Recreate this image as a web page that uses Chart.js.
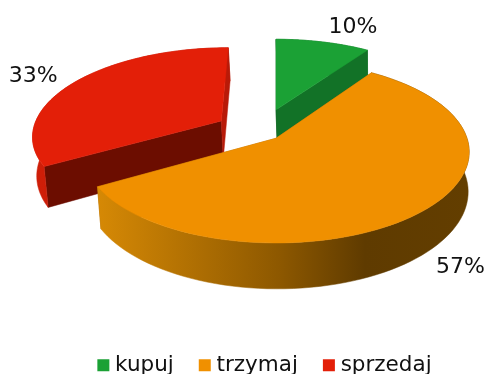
<!DOCTYPE html>
<html>
<head>
<meta charset="utf-8">
<script src="https://cdn.jsdelivr.net/npm/chart.js@4/dist/chart.umd.min.js"></script>
<style>
html, body { margin: 0; padding: 0; background: #fff; }
#wrap { position: relative; width: 485px; height: 374px; }
</style>
</head>
<body>
<div id="wrap"><canvas id="pieChart"></canvas></div>
<script>
// DATA

const categories = ['kupuj', 'trzymaj', 'sprzedaj'];
const shares = [9.5, 57.1, 33.4];
const topColors = ['#1ba135', '#f09000', '#e31f08'];
const startWallColors = ['#0b4a1a', '#a86500', '#6c0d00'];
const endWallColors = ['#127227', '#a86500', '#b81a08'];
const rimColors = [
    ['#127227', '#127227'],
    ['#d68905', '#8d5800', '#5f3b00', '#633e00'],
    ['#cf1e08', '#b81a08']
];

// 3D VIEW SETTINGS

const TILT = 0.466;
const PERSPECTIVE = 0.15;
const DEPTH = 39;
const BOTTOM_SHRINK = 0.988;
const BOTTOM_SKEW = 1.3;
const VIEW_DX = 9;
const VIEW_DY = -24;
const sliceShift = [[0, 0.335], [0, 0], [-0.295, 0.2]];
const labelNudge = [[30, -15], [38, 56], [-42, -6]];

function project(el, X, Y, bottom) {
    const s = 1 / (1 + PERSPECTIVE * Y);
    let x = el.outerRadius * X * s;
    let y = -el.outerRadius * TILT * Y * s;
    if (bottom) {
        x = x * BOTTOM_SHRINK + BOTTOM_SKEW;
        y += DEPTH * s;
    }
    return { x: el.x + VIEW_DX + x, y: el.y + VIEW_DY + y };
}

function rimPoints(el, shift, bottom) {
    const steps = 90;
    const points = [];
    for (let i = 0; i <= steps; i++) {
        const a = el.startAngle + (el.endAngle - el.startAngle) * i / steps;
        points.push(project(el, shift[0] + Math.cos(a), shift[1] - Math.sin(a), bottom));
    }
    return points;
}

function fillPoints(ctx, points, color) {
    ctx.beginPath();
    points.forEach((p, i) => i ? ctx.lineTo(p.x, p.y) : ctx.moveTo(p.x, p.y));
    ctx.closePath();
    ctx.fillStyle = color;
    ctx.fill();
    ctx.strokeStyle = color;
    ctx.lineWidth = 0.5;
    ctx.stroke();
}

function drawSlice(ctx, el, i) {
    const shift = sliceShift[i];
    const top = rimPoints(el, shift, false);
    const bottom = rimPoints(el, shift, true);
    const apexTop = project(el, shift[0], shift[1], false);
    const apexBottom = project(el, shift[0], shift[1], true);
    const last = top.length - 1;

    fillPoints(ctx, [apexTop, top[0], bottom[0], apexBottom], startWallColors[i]);
    fillPoints(ctx, [apexTop, top[last], bottom[last], apexBottom], endWallColors[i]);

    const xs = top.map(p => p.x);
    const gradient = ctx.createLinearGradient(Math.min(...xs), 0, Math.max(...xs), 0);
    const stops = rimColors[i];
    const stopAt = stops.length === 4 ? [0, 0.49, 0.72, 1] : [0, 1];
    stops.forEach((c, k) => gradient.addColorStop(stopAt[k], c));
    fillPoints(ctx, top.concat(bottom.slice().reverse()), gradient);

    fillPoints(ctx, [apexTop].concat(top), topColors[i]);
}

// CHART

const pie3d = {
    id: 'pie3d',
    beforeDatasetsDraw(chart) {
        const ctx = chart.ctx;
        const arcs = chart.getDatasetMeta(0).data;
        ctx.save();
        [2, 0, 1].forEach(i => drawSlice(ctx, arcs[i], i));

        ctx.fillStyle = '#111';
        ctx.font = '22px "DejaVu Sans"';
        ctx.textAlign = 'center';
        ctx.textBaseline = 'middle';
        arcs.forEach((el, i) => {
            const mid = (el.startAngle + el.endAngle) / 2;
            const p = project(el, sliceShift[i][0] + Math.cos(mid), sliceShift[i][1] - Math.sin(mid), false);
            const text = Math.round(shares[i]) + '%';
            ctx.fillText(text, p.x + labelNudge[i][0], p.y + labelNudge[i][1]);
        });
        ctx.restore();
        return false;
    }
};

window.onload = function () {

    const canvas = document.getElementById('pieChart');

    new Chart(canvas.getContext('2d'), {
        type: 'pie',
        data: {
            labels: categories,
            datasets: [{
                data: shares,
                backgroundColor: topColors,
                borderWidth: 0
            }]
        },
        options: {
            responsive: true,
            maintainAspectRatio: false,
            animation: false,
            radius: 191,
            layout: {
                padding: { left: 49, top: 0, right: 0, bottom: -12 }
            },
            plugins: {
                tooltip: { enabled: false },
                legend: {
                    position: 'bottom',
                    labels: {
                        usePointStyle: true,
                        pointStyle: 'rect',
                        boxWidth: 2,
                        boxHeight: 12,
                        padding: 30,
                        color: '#111',
                        font: { family: '"DejaVu Sans"', size: 21.5 }
                    }
                }
            }
        },
        plugins: [pie3d]
    });
};
</script>
</body>
</html>
